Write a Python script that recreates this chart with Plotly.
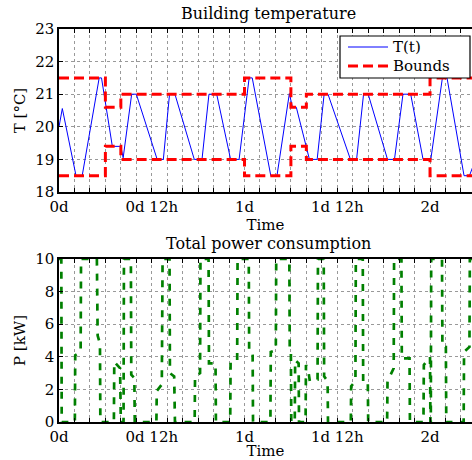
import plotly.graph_objects as go

# ---------------- data (time in hours) ----------------
temp_t = [0, 0.43, 2.2, 3.0, 5.2, 5.5, 6.9, 8.0, 8.3, 9.4, 10.0, 12.7, 13.5, 14.3, 15.0,
          17.5, 18.5, 19.4, 20.4, 22.2, 23.3, 24.6, 25.0, 27.4, 28.2, 29.8, 30.2, 30.7,
          32.4, 33.4, 34.3, 34.8, 37.7, 38.5, 39.4, 40.0, 42.5, 43.4, 44.5, 45.5, 47.1,
          48.1, 49.6, 50.2, 52.4, 53.1, 53.5]
temp_c = [20.0, 20.56, 18.5, 18.5, 21.5, 21.5, 19.4, 19.4, 19.05, 21.0, 21.0, 19.0, 19.0, 21.0, 21.0,
          19.0, 19.0, 21.0, 21.0, 19.0, 19.0, 21.5, 21.5, 18.5, 18.5, 21.02, 20.6, 20.6,
          19.0, 19.0, 21.0, 21.0, 19.0, 19.0, 21.0, 21.0, 19.0, 19.0, 21.0, 21.0, 19.0,
          19.0, 21.5, 21.5, 18.5, 18.5, 18.75]

bound_t = [0, 6, 8, 24, 30, 32, 48, 53.5]
bound_upper = [21.5, 20.6, 21.0, 21.5, 20.6, 21.0, 21.5, 21.5]
bound_lower = [18.5, 19.4, 19.0, 18.5, 19.4, 19.0, 18.5, 18.5]

power_t = [0, 0.3, 0.35,
           2.05, 2.1, 2.8, 2.85, 4.9, 5.0, 5.3, 5.35,
           7.1, 7.15, 7.9, 8.0, 8.35, 8.4, 9.3, 9.35, 9.75, 9.8,
           12.6, 12.65, 13.3, 13.4, 14.3, 14.35, 14.9, 15.0,
           17.55, 17.6, 18.25, 18.3, 19.35, 19.4, 20.25, 20.3,
           22.15, 22.2, 23.05, 23.1, 24.55, 24.6, 25.05, 25.1,
           27.35, 27.4, 28.05, 28.1, 29.8, 29.85, 30.0, 30.05,
           30.5, 30.55, 31.0, 31.05, 31.9, 31.95, 32.3, 32.45, 33.45, 33.5, 34.25, 34.3, 34.75, 34.8,
           37.75, 37.8, 38.35, 38.4, 39.3, 39.35, 39.95, 40.0,
           42.45, 42.5, 43.3, 43.35, 44.3, 44.35, 45.35, 45.4,
           47.15, 47.2, 48.0, 48.05, 48.1, 48.15, 49.55, 49.6, 50.05, 50.1,
           52.35, 52.4, 53.1, 53.15, 53.5]
power_kw = [10, 10, 0,
            0, 4.1, 4.3, 10, 10, 5.3, 4.8, 0,
            0, 3.7, 3.3, 0, 0, 10, 10, 2.9, 2.7, 0,
            0, 1.9, 2.3, 10, 10, 3.0, 2.8, 0,
            0, 2.8, 3.0, 10, 10, 3.6, 3.6, 0,
            0, 3.7, 3.8, 10, 10, 4.4, 4.3, 0,
            0, 4.3, 4.4, 10, 10, 4.4, 4.3, 0,
            0, 3.8, 3.6, 0, 0, 3.5, 3.0, 2.5, 2.6, 10, 10, 2.8, 2.5, 0,
            0, 2.2, 2.5, 10, 10, 2.5, 2.5, 0,
            0, 2.5, 3.3, 10, 10, 3.9, 3.9, 0,
            0, 3.5, 4.0, 0, 0, 10, 10, 4.6, 4.6, 0,
            0, 4.3, 4.6, 10, 10]

tick_hours = list(range(0, 54, 2))
tick_names = {0: "0d", 12: "0d 12h", 24: "1d", 36: "1d 12h", 48: "2d"}
tick_text = [tick_names.get(h, "") for h in tick_hours]

legend_labels = ["T(t)", "Bounds"]

# ---------------- figure ----------------
FONT = "DejaVu Serif"
BLUE, RED, GREEN = "#0000ff", "#ff0000", "#008000"
RED_DASH = "10px,5px"
fig = go.Figure()

fig.add_trace(go.Scatter(x=temp_t, y=temp_c, mode="lines", name=legend_labels[0],
                         line=dict(color=BLUE, width=1), xaxis="x", yaxis="y"))
fig.add_trace(go.Scatter(x=bound_t, y=bound_upper, mode="lines", name=legend_labels[1],
                         line=dict(color=RED, width=3, dash=RED_DASH, shape="hv"),
                         xaxis="x", yaxis="y"))
fig.add_trace(go.Scatter(x=bound_t, y=bound_lower, mode="lines", name=legend_labels[1],
                         line=dict(color=RED, width=3, dash=RED_DASH, shape="hv"),
                         xaxis="x", yaxis="y"))
fig.add_trace(go.Scatter(x=power_t, y=power_kw, mode="lines", name="P",
                         line=dict(color=GREEN, width=2.7, dash="7px,8px"),
                         xaxis="x2", yaxis="y2"))

xrange = [0, 53.43]
axis_common = dict(showline=True, linecolor="black", linewidth=1.5,
                   ticks="inside", ticklen=4, tickcolor="black",
                   showgrid=True, gridcolor="#999", griddash="dot", gridwidth=1,
                   zeroline=False, tickfont=dict(family=FONT, size=15, color="black"))

# compact legend box (drawn in paper space over the top axes)
W, H, L, T, B = 472, 460, 59, 29, 38
pw, ph = W - L, H - T - B
def px_x(p):
    return (p - L) / pw
def px_y(p):
    return (H - B - p) / ph

leg_box = dict(type="rect", xref="paper", yref="paper",
               x0=px_x(340), x1=px_x(470), y0=px_y(78), y1=px_y(36),
               line=dict(color="black", width=1.2), fillcolor="white", layer="above")
leg_blue = dict(type="line", xref="paper", yref="paper",
                x0=px_x(348), x1=px_x(388), y0=px_y(47), y1=px_y(47),
                line=dict(color=BLUE, width=1), layer="above")
leg_red = dict(type="line", xref="paper", yref="paper",
               x0=px_x(348), x1=px_x(388), y0=px_y(66), y1=px_y(66),
               line=dict(color=RED, width=3, dash=RED_DASH), layer="above")

fig.update_layout(
    width=W, height=H,
    margin=dict(l=L, r=0, t=T, b=B),
    paper_bgcolor="white", plot_bgcolor="white",
    showlegend=False,
    font=dict(family=FONT, size=15, color="black"),
    xaxis=dict(domain=[0, 1], range=xrange, anchor="y", mirror="ticks",
               tickvals=tick_hours, ticktext=tick_text,
               title=dict(text="Time", standoff=2, font=dict(size=15)), **axis_common),
    yaxis=dict(domain=[px_y(192), 1], range=[18, 23], anchor="x", dtick=1,
               title=dict(text="T [°C]", standoff=6, font=dict(size=15)), **axis_common),
    xaxis2=dict(domain=[0, 1], range=xrange, anchor="y2", mirror="ticks",
                tickvals=tick_hours, ticktext=tick_text,
                title=dict(text="Time", standoff=2, font=dict(size=15)), **axis_common),
    yaxis2=dict(domain=[0, px_y(259)], range=[0, 10], anchor="x2", dtick=2,
                title=dict(text="P [kW]", standoff=6, font=dict(size=15)), **axis_common),
    shapes=[leg_box, leg_blue, leg_red],
    annotations=[
        dict(text="Building temperature", xref="paper", yref="paper", x=px_x(268), y=1.0,
             xanchor="center", yanchor="bottom", yshift=4, showarrow=False,
             font=dict(family=FONT, size=16)),
        dict(text="Total power consumption", xref="paper", yref="paper", x=px_x(268), y=px_y(259),
             xanchor="center", yanchor="bottom", yshift=4, showarrow=False,
             font=dict(family=FONT, size=16)),
        dict(text=legend_labels[0], xref="paper", yref="paper", x=px_x(392), y=px_y(47),
             xanchor="left", yanchor="middle", showarrow=False, borderpad=0,
             font=dict(family=FONT, size=15)),
        dict(text=legend_labels[1], xref="paper", yref="paper", x=px_x(392), y=px_y(66),
             xanchor="left", yanchor="middle", showarrow=False, borderpad=0,
             font=dict(family=FONT, size=15)),
    ],
)

fig.write_html("out.html", config={"displayModeBar": False},
               post_script="document.body.style.margin='0';document.body.style.overflow='hidden';")
